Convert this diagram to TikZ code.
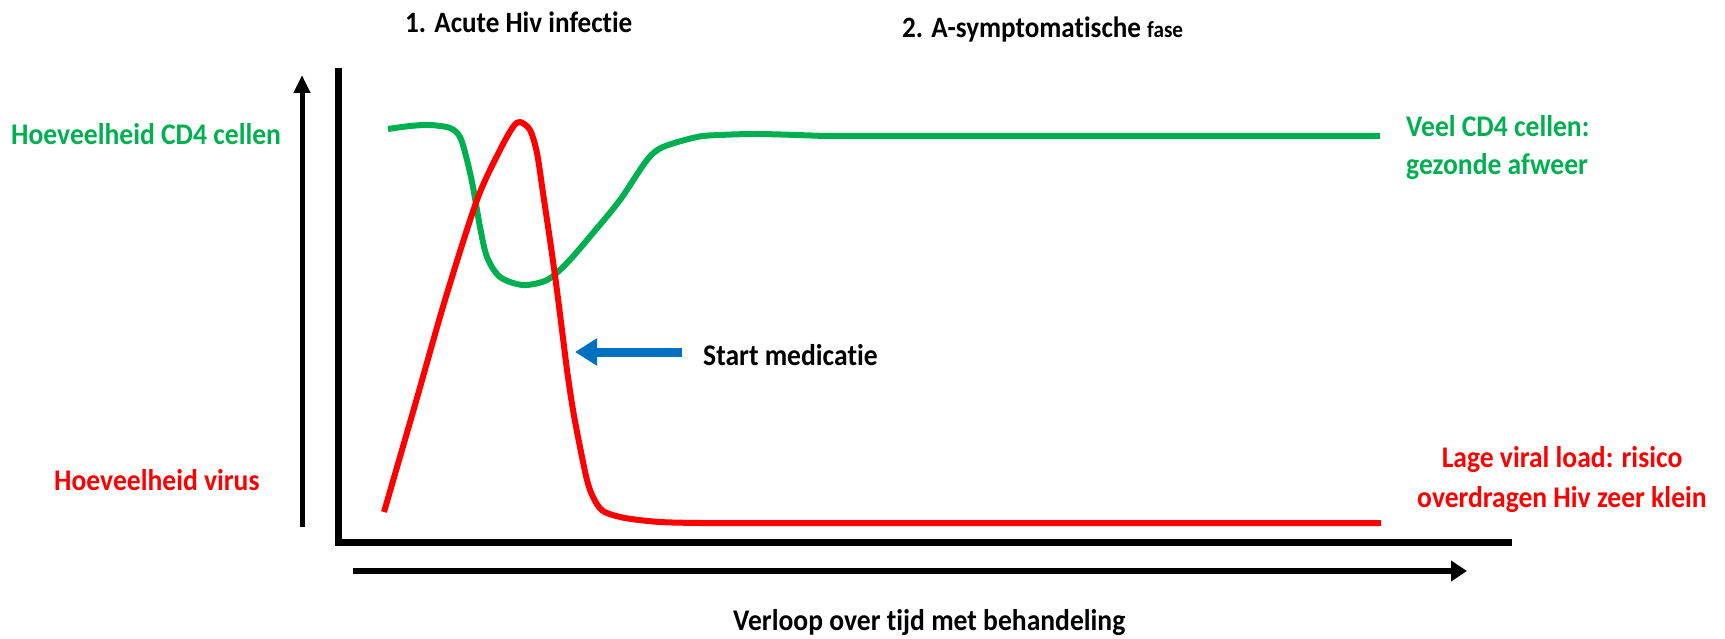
\documentclass[tikz,border=0pt]{standalone}
\usepackage{fontspec}
\setmainfont{Carlito}[FakeStretch=0.92, Ligatures=NoCommon]
\usetikzlibrary{arrows.meta}
\definecolor{cgreen}{HTML}{00B050}
\definecolor{cred}{HTML}{FF0000}
\definecolor{cblue}{HTML}{0070C0}
\tikzset{
  lbl/.style={inner sep=0pt, font=\fontsize{30}{36}\selectfont\bfseries},
  ttl/.style={inner sep=0pt, font=\fontsize{29.5}{34}\selectfont\bfseries},
  curve/.style={line width=6pt, line join=round},
  axis/.style={line width=7pt, line join=miter},
}
\begin{document}
\begin{tikzpicture}[x=1pt,y=-1pt]
\useasboundingbox (0,0) rectangle (1725,639);
% titles
\node[ttl, anchor=base west] (t1) at (405,33) {1. Acute Hiv infectie};
\node[ttl, anchor=base west] (t2) at (902,38) {2. A-symptomatische \fontsize{23}{28}\selectfont fase};
% left labels
\node[lbl, text=cgreen, anchor=base west] (lcd4) at (11,145) {Hoeveelheid CD4 cellen};
\node[lbl, text=cred, anchor=base west] (lvir) at (54,490) {Hoeveelheid virus};
% right labels
\node[lbl, text=cgreen, anchor=base west] (r1a) at (1406,137) {Veel CD4 cellen:};
\node[lbl, text=cgreen, anchor=base west] (r1b) at (1406,175) {gezonde afweer};
\node[lbl, text=cred, anchor=base] (r2a) at (1562,467) {Lage viral load: risico};
\node[lbl, text=cred, anchor=base] (r2b) at (1562,507) {overdragen Hiv zeer klein};
\node[lbl, anchor=base west] (med) at (703,365) {Start medicatie};
\node[lbl, anchor=base west] (tijd) at (733,630) {Verloop over tijd met behandeling};
% y arrow
\coordinate (ya) at (302,527);
\coordinate (yb) at (302,75);
\draw[line width=5pt, -{Triangle[length=18pt,width=16pt]}] (ya) -- (yb);
% axes
\coordinate (ax0) at (338,68);
\coordinate (ax1) at (338,542);
\coordinate (ax2) at (1512,542);
\draw[axis] (ax0) -- (ax1) -- (ax2);
% time arrow
\coordinate (xa) at (353,571);
\coordinate (xb) at (1467,571);
\draw[line width=6pt, -{Triangle[length=16pt,width=20pt]}] (xa) -- (xb);
% blue arrow
\coordinate (ba) at (682,352);
\coordinate (bb) at (575,352);
\draw[cblue, line width=9pt, -{Triangle[length=22pt,width=26pt]}] (ba) -- (bb);
% green curve
\draw[curve, cgreen] plot[smooth, tension=0.5] coordinates {(388,129) (410,126) (430,125) (450,128) (460,137) (467,160) (473,187) (480,227) (487,257) (500,277) (523,285) (547,280) (567,263) (593,233) (620,200) (647,160) (663,147) (697,137) (720,135) (760,134) (825,136)} -- (1380,136);
% red curve
\draw[curve, cred] plot[smooth, tension=0.5] coordinates {(384,512) (415,405) (445,300) (477,200) (500,150) (513,127) (520,122) (530,130) (537,153) (543,193) (550,240) (556,283) (562,330) (567,370) (573,410) (580,447) (587,480) (593,497) (603,511) (625,518) (660,522) (700,523)} -- (1381,523);
\end{tikzpicture}
\end{document}
